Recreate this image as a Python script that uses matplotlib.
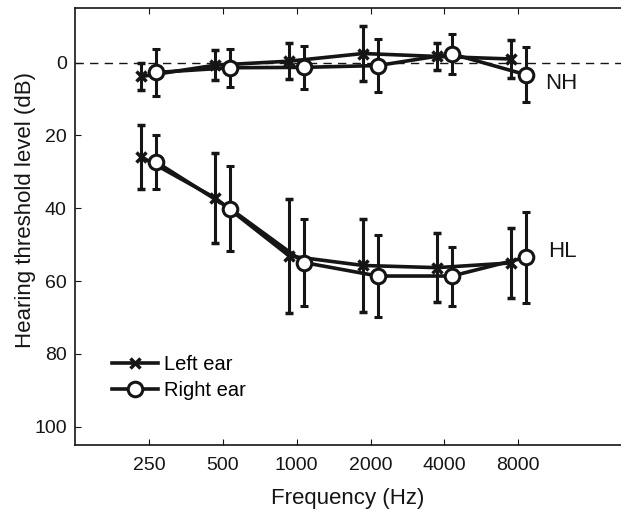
import numpy as np
import matplotlib
matplotlib.use("Agg")
import matplotlib.pyplot as plt

plt.rcParams['font.family'] = ['Liberation Sans', 'DejaVu Sans']

# audiometric frequencies (Hz)
freqs = np.array([250, 500, 1000, 2000, 4000, 8000])
tick_labels = ['250', '500', '1000', '2000', '4000', '8000']

# normal hearing group (dB HL), mean and error
nh_left = [3.8, 0.7, -0.4, -2.5, -1.7, -1.0]
nh_left_err = [3.7, 4.2, 5.0, 7.6, 3.8, 5.2]
nh_right = [2.7, 1.4, 1.3, 0.8, -2.4, 3.3]
nh_right_err = [6.5, 5.2, 5.9, 7.3, 5.4, 7.5]

# hearing loss group
hl_left = [25.9, 37.2, 53.1, 55.7, 56.3, 55.0]
hl_left_err = [8.8, 12.3, 15.7, 12.8, 9.5, 9.6]
hl_right = [27.3, 40.1, 54.9, 58.6, 58.6, 53.5]
hl_right_err = [7.5, 11.6, 12.0, 11.2, 8.1, 12.5]

col = '#151515'
x_left = freqs * 2 ** -0.1
x_right = freqs * 2 ** 0.1

fig = plt.figure(figsize=(6.21, 5.12), dpi=100)
ax = fig.add_axes([75 / 621, 1 - 445 / 512, 1 - 75 / 621, (445 - 8) / 512])

ax.axhline(0, color=col, lw=1, ls=(0, (6, 4.5)), zorder=1)

for yl, el, yr, er in [(nh_left, nh_left_err, nh_right, nh_right_err),
                       (hl_left, hl_left_err, hl_right, hl_right_err)]:
    ax.errorbar(x_left, yl, yerr=el, color=col, lw=2.6, marker='x', ms=7.5, mew=2.5,
                elinewidth=2.2, capsize=2.6, capthick=2.2, zorder=3)
    ax.errorbar(x_right, yr, yerr=er, color=col, lw=2.6, marker='o', ms=10.5, mew=2.2,
                mfc='white', elinewidth=2.2, capsize=2.6, capthick=2.2, zorder=4)

ax.set_xscale('log')
ax.set_xlim(125, 250 * 2 ** 6.39)
ax.set_ylim(105, -15)
ax.set_xticks(freqs)
ax.set_xticklabels(tick_labels)
ax.minorticks_off()
ax.set_yticks([0, 20, 40, 60, 80, 100])
ax.tick_params(direction='in', length=4, width=0.8, labelsize=14, colors=col,
               top=True, pad=6)
ax.tick_params(axis='x', pad=9)
ax.spines['right'].set_visible(False)
for s in ['left', 'bottom', 'top']:
    ax.spines[s].set_linewidth(1.2)
    ax.spines[s].set_color(col)

ax.set_xlabel('Frequency (Hz)', fontsize=16, color=col, labelpad=10)
ax.set_ylabel('Hearing threshold level (dB)', fontsize=16, color=col)
ax.yaxis.set_label_coords(-0.072, 0.538)

ax.text(10300, 5.8, 'NH', fontsize=16, color=col, va='center', ha='left')
ax.text(10600, 52, 'HL', fontsize=16, color=col, va='center', ha='left')

# legend proxies
ax.plot([], [], color=col, lw=2.6, marker='x', ms=7.5, mew=2.5, label='Left ear')
ax.plot([], [], color=col, lw=2.6, marker='o', ms=10.5, mew=2.2, mfc='white', label='Right ear')
h, l = ax.get_legend_handles_labels()
ax.legend(h[-2:], l[-2:], loc='upper left', bbox_to_anchor=(0.068, 0.205), frameon=False,
          borderpad=0, borderaxespad=0, fontsize=14.5, handlelength=2.3,
          handletextpad=0.3, labelspacing=0.35)

fig.savefig('out.png', dpi=100)
